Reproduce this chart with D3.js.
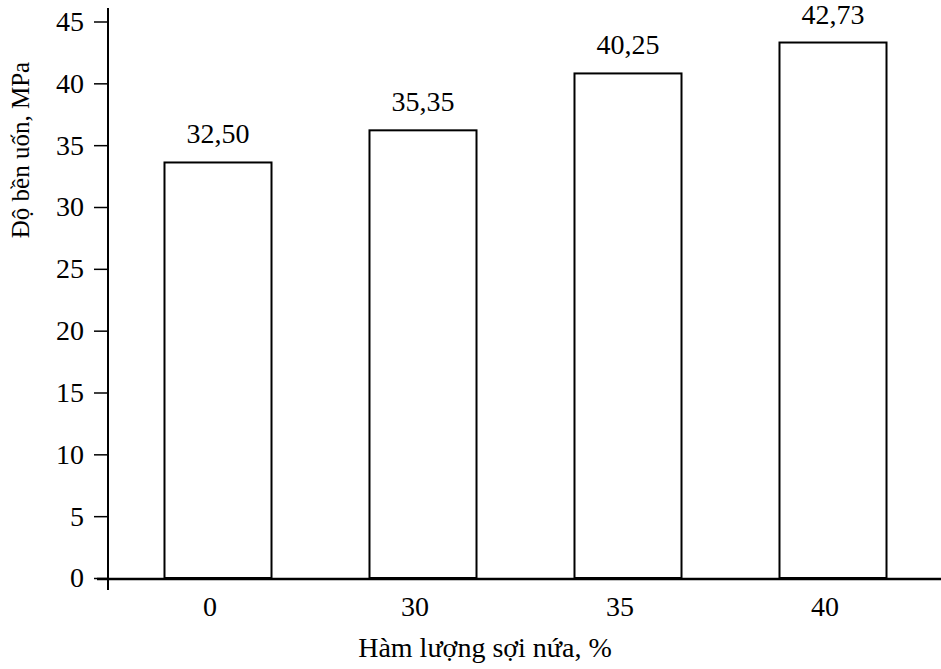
<!DOCTYPE html>
<html>
<head>
<meta charset="utf-8">
<script src="https://cdn.jsdelivr.net/npm/d3@7"></script>
<style>
  html, body { margin: 0; padding: 0; background: #fff; }
  svg text { font-family: "Liberation Serif", "Times New Roman", serif; fill: #000; }
</style>
</head>
<body>
<svg id="chart" width="941" height="669"></svg>
<script>
// ---- data ----
const categories = ["0", "30", "35", "40"];
const barValues = [33.6, 36.2, 40.8, 43.3];
const valueLabels = ["32,50", "35,35", "40,25", "42,73"];
const yTicks = [0, 5, 10, 15, 20, 25, 30, 35, 40, 45];
const xTitle = "Hàm lượng sợi nứa, %";
const yTitle = "Độ bền uốn, MPa";

// ---- layout ----
const svg = d3.select("#chart");
const fontSize = 28;
const serif = "Liberation Serif, Times New Roman, serif";

const y = d3.scaleLinear().domain([0, 45]).range([578, 21.5]);
const x = d3.scaleBand().domain(categories).range([115.5, 935.5])
  .paddingInner(0.478).paddingOuter(0.239);

// bars
svg.append("g").selectAll("rect").data(categories).join("rect")
  .attr("x", d => x(d))
  .attr("y", (d, i) => y(barValues[i]))
  .attr("width", x.bandwidth())
  .attr("height", (d, i) => y(0) - y(barValues[i]))
  .attr("fill", "#fff")
  .attr("stroke", "#000")
  .attr("stroke-width", 2);

// value labels
svg.append("g").selectAll("text").data(categories).join("text")
  .attr("x", d => x(d) + x.bandwidth() / 2)
  .attr("y", (d, i) => y(barValues[i]) - 19)
  .attr("text-anchor", "middle")
  .attr("font-size", fontSize)
  .text((d, i) => valueLabels[i]);

// y axis
const yAxis = svg.append("g").attr("transform", "translate(108,0)")
  .call(d3.axisLeft(y).tickValues(yTicks).tickSize(14).tickPadding(10).tickFormat(d3.format("d")));
yAxis.select(".domain").remove();
yAxis.selectAll(".tick line").attr("stroke", "#000").attr("stroke-width", 1.5);
yAxis.selectAll(".tick text").attr("font-size", fontSize)
  .attr("font-family", serif).attr("fill", "#000");
svg.append("line").attr("x1", 108).attr("x2", 108).attr("y1", 8).attr("y2", 590)
  .attr("stroke", "#000").attr("stroke-width", 2);

// x axis
const xAxis = svg.append("g").attr("transform", "translate(0," + y(0) + ")")
  .call(d3.axisBottom(x).tickSize(0).tickPadding(18));
xAxis.select(".domain").remove();
xAxis.selectAll(".tick text").attr("font-size", fontSize).attr("dx", -8)
  .attr("font-family", serif).attr("fill", "#000");
svg.append("line").attr("x1", 97).attr("x2", 941).attr("y1", y(0) + 1).attr("y2", y(0) + 1)
  .attr("stroke", "#000").attr("stroke-width", 2.5);

// titles
svg.append("text").attr("x", 485).attr("y", 657).attr("text-anchor", "middle")
  .attr("font-size", fontSize).text(xTitle);
svg.append("text").attr("transform", "translate(29,150) rotate(-90)")
  .attr("text-anchor", "middle").attr("font-size", 25).text(yTitle);
</script>
</body>
</html>
